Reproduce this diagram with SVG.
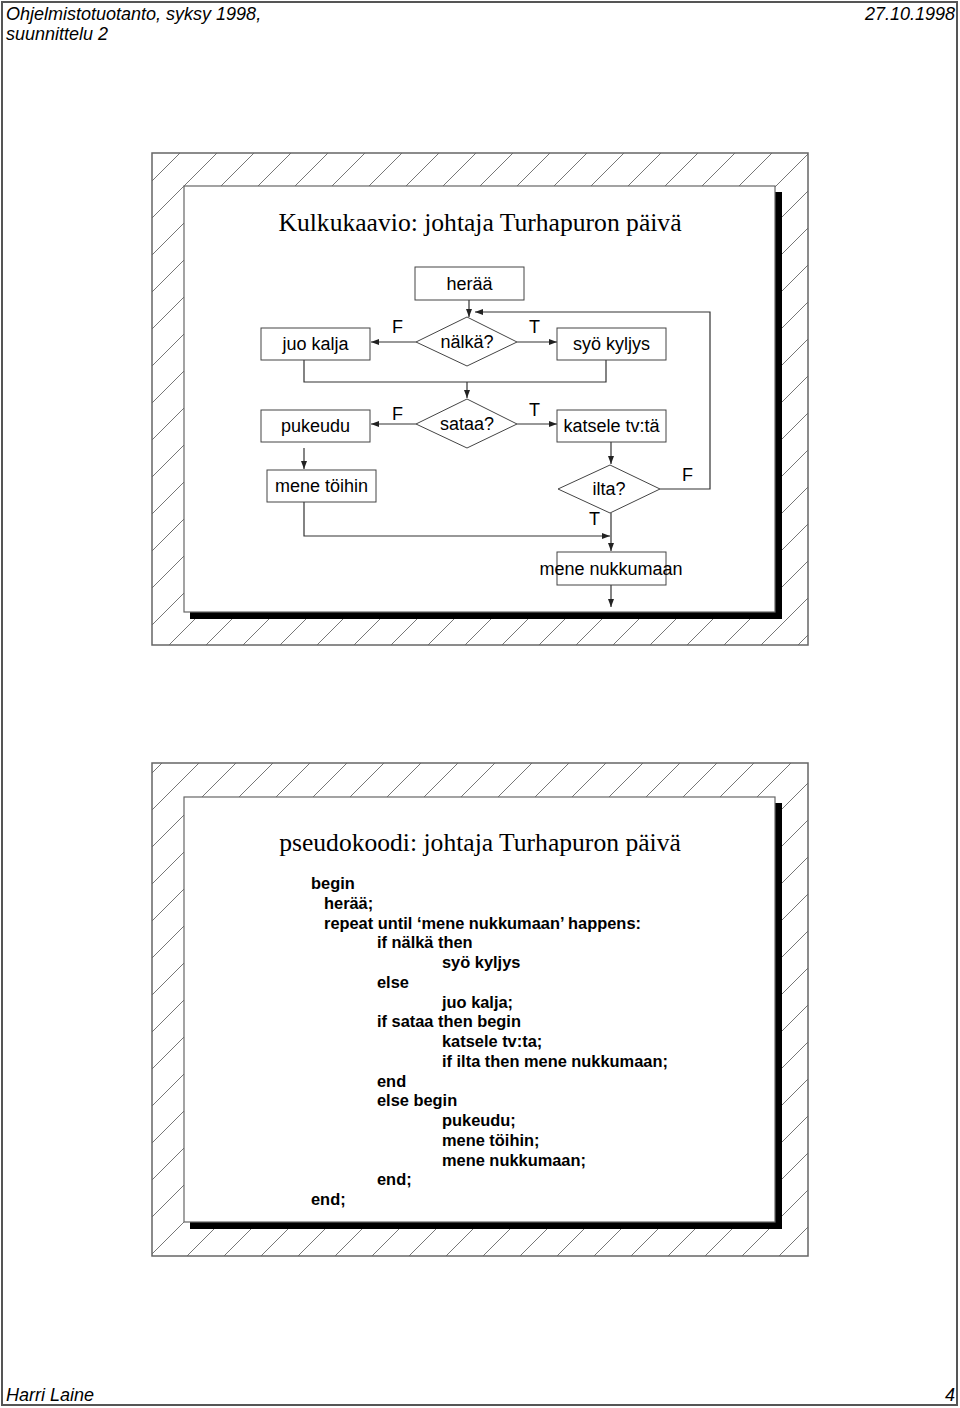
<svg xmlns="http://www.w3.org/2000/svg" width="960" height="1408" viewBox="0 0 960 1408">
<style>
.hdr{font-family:"Liberation Sans",Arial,sans-serif;font-style:italic;font-size:18px;fill:#000}
.ttl{font-family:"Liberation Serif","Times New Roman",serif;font-size:25.6px;fill:#000}
.nt{font-family:"Liberation Sans",Arial,sans-serif;font-size:18px;fill:#000;text-anchor:middle}
.lb{font-family:"Liberation Sans",Arial,sans-serif;font-size:18px;fill:#000}
.code{font-family:"Liberation Sans",Arial,sans-serif;font-size:16.4px;font-weight:bold;fill:#000}
.box{fill:#fff;stroke:#444;stroke-width:1}
.frame{fill:url(#hatch);stroke:#666;stroke-width:1.5}
.inner{fill:#fff;stroke:#666;stroke-width:1.2}
.shadow{fill:#000}
.conn path{fill:none;stroke:#333;stroke-width:1.2}
</style>
<defs>
<pattern id="hatch" patternUnits="userSpaceOnUse" width="37" height="37">
<path d="M0,37 L37,0 M-8,8 L8,-8 M29,45 L45,29" stroke="#777" stroke-width="1"/>
</pattern>
<marker id="ah" markerWidth="8" markerHeight="6" refX="8" refY="3" orient="auto" markerUnits="userSpaceOnUse">
<path d="M0,0 L8,3 L0,6 z" fill="#222"/>
</marker>
</defs>
<rect x="0" y="0" width="960" height="1408" fill="#fff"/>
<rect x="2" y="2" width="955" height="1403" fill="none" stroke="#555" stroke-width="2"/>
<g id="header">
<text class="hdr" x="6" y="20">Ohjelmistotuotanto, syksy 1998,</text>
<text class="hdr" x="6" y="40">suunnittelu 2</text>
<text class="hdr" x="955" y="20" text-anchor="end">27.10.1998</text>
</g>
<g id="footer">
<text class="hdr" x="6" y="1401">Harri Laine</text>
<text class="hdr" x="955" y="1401" text-anchor="end">4</text>
</g>

<g id="slide1">
<rect class="frame" x="152" y="153" width="656" height="492"/>
<rect class="shadow" x="190" y="192" width="592" height="427"/>
<rect class="inner" x="184" y="186" width="591" height="426"/>
<text class="ttl" x="480" y="231" text-anchor="middle">Kulkukaavio: johtaja Turhapuron päivä</text>
</g>

<g class="conn" id="connectors">
<path d="M469,300 V317" marker-end="url(#ah)"/>
<path d="M660,489 H710 V312 H475" marker-end="url(#ah)"/>
<path d="M416,342 H371" marker-end="url(#ah)"/>
<path d="M517,342 H557" marker-end="url(#ah)"/>
<path d="M304,360 V382 H606 V360"/>
<path d="M467,382 V398" marker-end="url(#ah)"/>
<path d="M416,424 H371" marker-end="url(#ah)"/>
<path d="M517,424 H557" marker-end="url(#ah)"/>
<path d="M304,448 V469" marker-end="url(#ah)"/>
<path d="M304,502 V536 H610" marker-end="url(#ah)"/>
<path d="M611,442 V464" marker-end="url(#ah)"/>
<path d="M611,513 V551" marker-end="url(#ah)"/>
<path d="M611,585 V607" marker-end="url(#ah)"/>
</g>

<g id="n-heraa"><rect class="box" x="415" y="267" width="109" height="33"/><text class="nt" x="469.5" y="290">herää</text></g>
<g id="n-nalka"><polygon class="box" points="416,342 467,317 517,342 467,366"/><text class="nt" x="467" y="348">nälkä?</text></g>
<g id="n-juokalja"><rect class="box" x="261" y="328" width="109" height="32"/><text class="nt" x="315.5" y="350">juo kalja</text></g>
<g id="n-syokyljys"><rect class="box" x="557" y="328" width="109" height="32"/><text class="nt" x="611.5" y="350">syö kyljys</text></g>
<g id="n-sataa"><polygon class="box" points="416,424 467,399 517,424 467,448"/><text class="nt" x="467" y="430">sataa?</text></g>
<g id="n-pukeudu"><rect class="box" x="261" y="410" width="109" height="32"/><text class="nt" x="315.5" y="432">pukeudu</text></g>
<g id="n-katsele"><rect class="box" x="557" y="410" width="109" height="32"/><text class="nt" x="611.5" y="432">katsele tv:tä</text></g>
<g id="n-toihin"><rect class="box" x="267" y="470" width="109" height="32"/><text class="nt" x="321.5" y="492">mene töihin</text></g>
<g id="n-ilta"><polygon class="box" points="558,489 610,465 660,489 610,513"/><text class="nt" x="609" y="495">ilta?</text></g>
<g id="n-nukkumaan"><rect class="box" x="557" y="552" width="109" height="33"/><text class="nt" x="611" y="575">mene nukkumaan</text></g>

<g id="labels">
<text class="lb" x="392" y="333">F</text>
<text class="lb" x="529" y="333">T</text>
<text class="lb" x="392" y="420">F</text>
<text class="lb" x="529" y="416">T</text>
<text class="lb" x="682" y="481">F</text>
<text class="lb" x="589" y="525">T</text>
</g>

<g id="slide2">
<rect class="frame" x="152" y="763" width="656" height="493"/>
<rect class="shadow" x="190" y="803" width="592" height="426"/>
<rect class="inner" x="184" y="797" width="591" height="425"/>
<text class="ttl" x="480" y="851" text-anchor="middle">pseudokoodi: johtaja Turhapuron päivä</text>
<text class="code" x="311" y="889">begin</text>
<text class="code" x="324" y="909">herää;</text>
<text class="code" x="324" y="929">repeat until ‘mene nukkumaan’ happens:</text>
<text class="code" x="377" y="948">if nälkä then</text>
<text class="code" x="442" y="968">syö kyljys</text>
<text class="code" x="377" y="988">else</text>
<text class="code" x="442" y="1008">juo kalja;</text>
<text class="code" x="377" y="1027">if sataa then begin</text>
<text class="code" x="442" y="1047">katsele tv:ta;</text>
<text class="code" x="442" y="1067">if ilta then mene nukkumaan;</text>
<text class="code" x="377" y="1087">end</text>
<text class="code" x="377" y="1106">else begin</text>
<text class="code" x="442" y="1126">pukeudu;</text>
<text class="code" x="442" y="1146">mene töihin;</text>
<text class="code" x="442" y="1166">mene nukkumaan;</text>
<text class="code" x="377" y="1185">end;</text>
<text class="code" x="311" y="1205">end;</text>
</g>
</svg>
